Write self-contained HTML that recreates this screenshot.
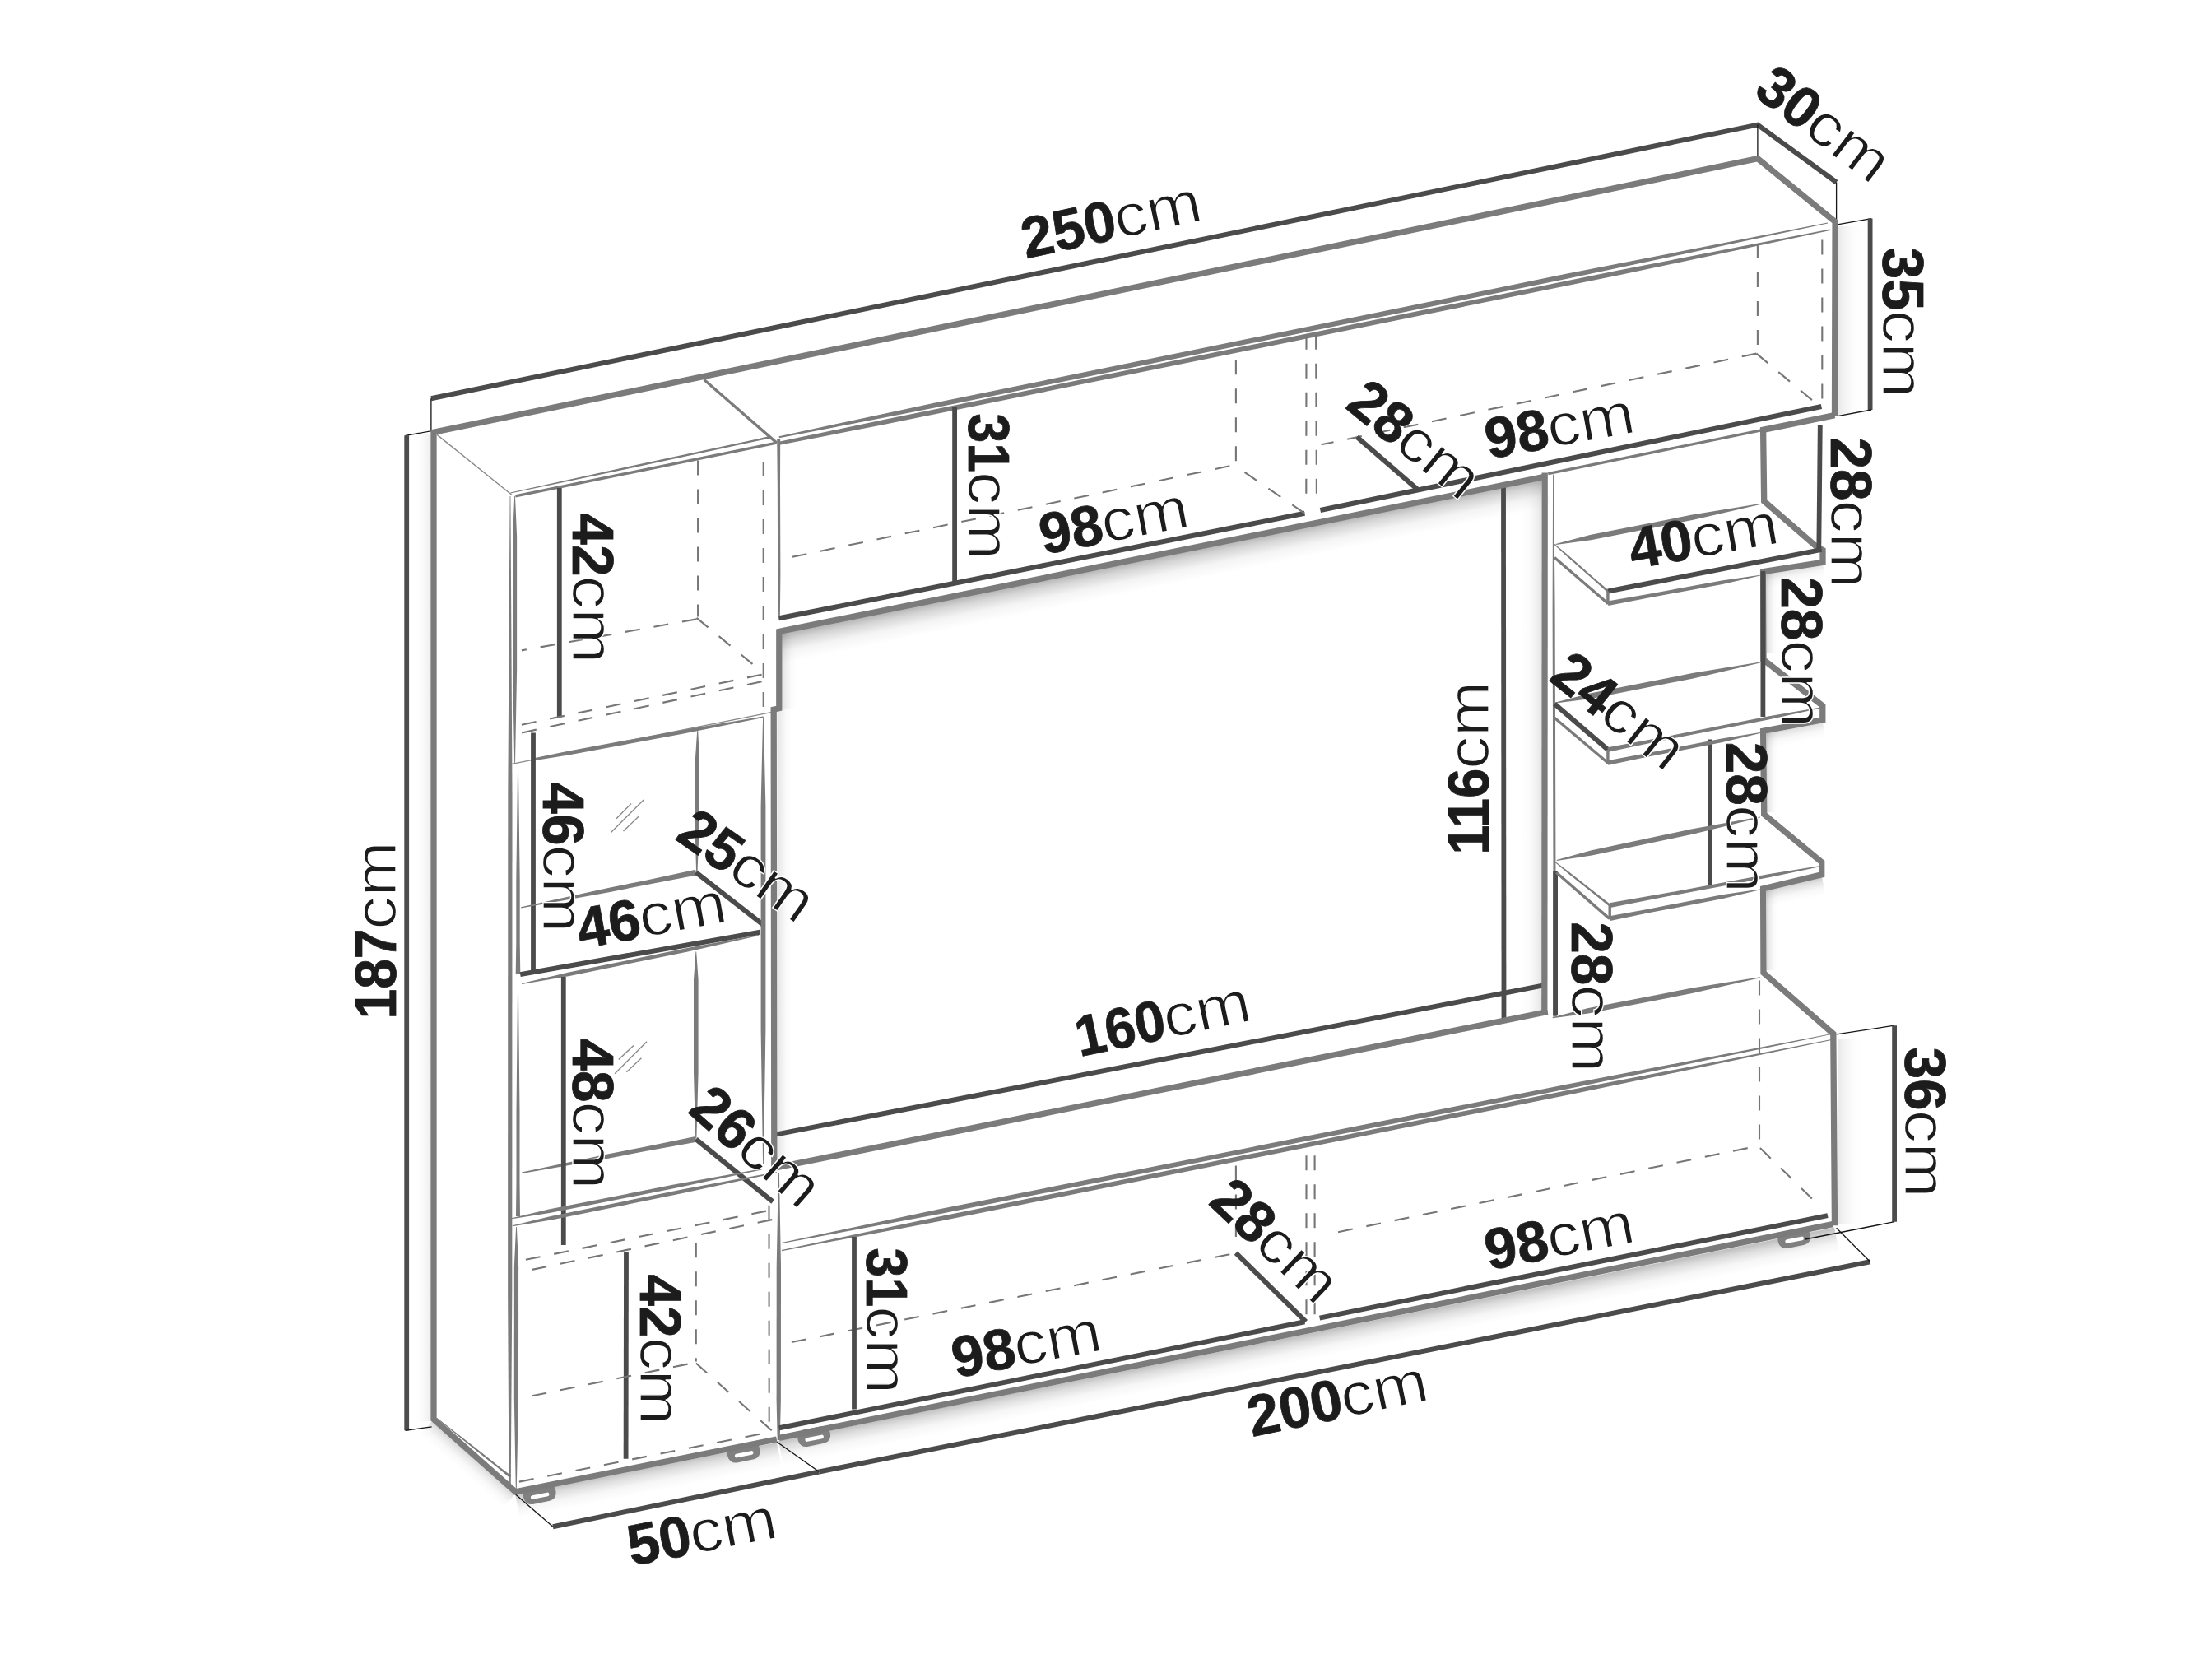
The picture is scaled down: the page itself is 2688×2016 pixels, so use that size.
<!DOCTYPE html>
<html lang="en"><head><meta charset="utf-8"><title>Wall unit dimensions</title>
<style>
html,body{margin:0;padding:0;background:#fff;}
body{width:2688px;height:2016px;overflow:hidden;}
svg{display:block;}
text{font-family:"Liberation Sans",sans-serif;font-size:70px;fill:#1c1c1c;}
text.n{font-weight:bold;stroke:#1c1c1c;stroke-width:0.8px;}
text.u{font-weight:normal;font-size:72px;stroke:#fff;stroke-width:1.3px;paint-order:fill stroke;}
</style></head><body>
<svg width="2688" height="2016" viewBox="0 0 2688 2016">
<rect width="2688" height="2016" fill="#fff"/>
<defs><linearGradient id="g0" gradientUnits="userSpaceOnUse" x1="944.0" y1="771.0" x2="951.2" y2="806.3"><stop offset="0" stop-color="#000" stop-opacity="0.3"/><stop offset="0.25" stop-color="#000" stop-opacity="0.165"/><stop offset="0.6" stop-color="#000" stop-opacity="0.045"/><stop offset="1" stop-color="#000" stop-opacity="0"/></linearGradient><linearGradient id="g1" gradientUnits="userSpaceOnUse" x1="950.5" y1="770.0" x2="968.5" y2="770.0"><stop offset="0" stop-color="#000" stop-opacity="0.12"/><stop offset="0.25" stop-color="#000" stop-opacity="0.066"/><stop offset="0.6" stop-color="#000" stop-opacity="0.018"/><stop offset="1" stop-color="#000" stop-opacity="0"/></linearGradient><linearGradient id="g2" gradientUnits="userSpaceOnUse" x1="944.5" y1="862.0" x2="962.5" y2="862.0"><stop offset="0" stop-color="#000" stop-opacity="0.12"/><stop offset="0.25" stop-color="#000" stop-opacity="0.066"/><stop offset="0.6" stop-color="#000" stop-opacity="0.018"/><stop offset="1" stop-color="#000" stop-opacity="0"/></linearGradient><linearGradient id="g3" gradientUnits="userSpaceOnUse" x1="1873.0" y1="583.0" x2="1849.0" y2="583.0"><stop offset="0" stop-color="#000" stop-opacity="0.1"/><stop offset="0.25" stop-color="#000" stop-opacity="0.055"/><stop offset="0.6" stop-color="#000" stop-opacity="0.015"/><stop offset="1" stop-color="#000" stop-opacity="0"/></linearGradient><linearGradient id="g4" gradientUnits="userSpaceOnUse" x1="946.0" y1="1751.0" x2="951.9" y2="1780.4"><stop offset="0" stop-color="#000" stop-opacity="0.24"/><stop offset="0.25" stop-color="#000" stop-opacity="0.132"/><stop offset="0.6" stop-color="#000" stop-opacity="0.036"/><stop offset="1" stop-color="#000" stop-opacity="0"/></linearGradient><linearGradient id="g5" gradientUnits="userSpaceOnUse" x1="626.0" y1="1815.5" x2="631.8" y2="1844.9"><stop offset="0" stop-color="#000" stop-opacity="0.24"/><stop offset="0.25" stop-color="#000" stop-opacity="0.132"/><stop offset="0.6" stop-color="#000" stop-opacity="0.036"/><stop offset="1" stop-color="#000" stop-opacity="0"/></linearGradient><linearGradient id="g6" gradientUnits="userSpaceOnUse" x1="525.0" y1="1727.0" x2="510.5" y2="1743.5"><stop offset="0" stop-color="#000" stop-opacity="0.16"/><stop offset="0.25" stop-color="#000" stop-opacity="0.088"/><stop offset="0.6" stop-color="#000" stop-opacity="0.024"/><stop offset="1" stop-color="#000" stop-opacity="0"/></linearGradient><linearGradient id="g7" gradientUnits="userSpaceOnUse" x1="523.5" y1="528.0" x2="503.5" y2="528.0"><stop offset="0" stop-color="#000" stop-opacity="0.07"/><stop offset="0.25" stop-color="#000" stop-opacity="0.039"/><stop offset="0.6" stop-color="#000" stop-opacity="0.011"/><stop offset="1" stop-color="#000" stop-opacity="0"/></linearGradient><linearGradient id="g8" gradientUnits="userSpaceOnUse" x1="2233.5" y1="275.0" x2="2263.5" y2="275.0"><stop offset="0" stop-color="#000" stop-opacity="0.09"/><stop offset="0.25" stop-color="#000" stop-opacity="0.050"/><stop offset="0.6" stop-color="#000" stop-opacity="0.013"/><stop offset="1" stop-color="#000" stop-opacity="0"/></linearGradient><linearGradient id="g9" gradientUnits="userSpaceOnUse" x1="2233.5" y1="1262.0" x2="2263.5" y2="1262.0"><stop offset="0" stop-color="#000" stop-opacity="0.09"/><stop offset="0.25" stop-color="#000" stop-opacity="0.050"/><stop offset="0.6" stop-color="#000" stop-opacity="0.013"/><stop offset="1" stop-color="#000" stop-opacity="0"/></linearGradient><linearGradient id="g10" gradientUnits="userSpaceOnUse" x1="2141.0" y1="695.0" x2="2145.4" y2="716.5"><stop offset="0" stop-color="#000" stop-opacity="0.2"/><stop offset="0.25" stop-color="#000" stop-opacity="0.110"/><stop offset="0.6" stop-color="#000" stop-opacity="0.030"/><stop offset="1" stop-color="#000" stop-opacity="0"/></linearGradient><linearGradient id="g11" gradientUnits="userSpaceOnUse" x1="2147.0" y1="693.0" x2="2161.0" y2="693.0"><stop offset="0" stop-color="#000" stop-opacity="0.14"/><stop offset="0.25" stop-color="#000" stop-opacity="0.077"/><stop offset="0.6" stop-color="#000" stop-opacity="0.021"/><stop offset="1" stop-color="#000" stop-opacity="0"/></linearGradient><linearGradient id="g12" gradientUnits="userSpaceOnUse" x1="2141.0" y1="889.0" x2="2145.4" y2="910.5"><stop offset="0" stop-color="#000" stop-opacity="0.2"/><stop offset="0.25" stop-color="#000" stop-opacity="0.110"/><stop offset="0.6" stop-color="#000" stop-opacity="0.030"/><stop offset="1" stop-color="#000" stop-opacity="0"/></linearGradient><linearGradient id="g13" gradientUnits="userSpaceOnUse" x1="2147.0" y1="887.0" x2="2161.0" y2="887.0"><stop offset="0" stop-color="#000" stop-opacity="0.14"/><stop offset="0.25" stop-color="#000" stop-opacity="0.077"/><stop offset="0.6" stop-color="#000" stop-opacity="0.021"/><stop offset="1" stop-color="#000" stop-opacity="0"/></linearGradient><linearGradient id="g14" gradientUnits="userSpaceOnUse" x1="2141.0" y1="1081.0" x2="2145.4" y2="1102.5"><stop offset="0" stop-color="#000" stop-opacity="0.2"/><stop offset="0.25" stop-color="#000" stop-opacity="0.110"/><stop offset="0.6" stop-color="#000" stop-opacity="0.030"/><stop offset="1" stop-color="#000" stop-opacity="0"/></linearGradient><linearGradient id="g15" gradientUnits="userSpaceOnUse" x1="2147.0" y1="1079.0" x2="2161.0" y2="1079.0"><stop offset="0" stop-color="#000" stop-opacity="0.14"/><stop offset="0.25" stop-color="#000" stop-opacity="0.077"/><stop offset="0.6" stop-color="#000" stop-opacity="0.021"/><stop offset="1" stop-color="#000" stop-opacity="0"/></linearGradient></defs>
<g><polygon points="944.0,771.0 1877.0,581.0 1884.2,616.3 951.2,806.3" fill="url(#g0)"/>
<polygon points="950.5,770.0 950.5,862.0 968.5,862.0 968.5,770.0" fill="url(#g1)"/>
<polygon points="944.5,862.0 944.5,1416.0 962.5,1416.0 962.5,862.0" fill="url(#g2)"/>
<polygon points="1873.0,583.0 1873.0,1232.0 1849.0,1232.0 1849.0,583.0" fill="url(#g3)"/>
<polygon points="946.0,1751.0 2229.0,1491.5 2234.9,1520.9 951.9,1780.4" fill="url(#g4)"/>
<polygon points="626.0,1815.5 944.0,1753.0 949.8,1782.4 631.8,1844.9" fill="url(#g5)"/>
<polygon points="525.0,1727.0 626.0,1815.5 611.5,1832.0 510.5,1743.5" fill="url(#g6)"/>
<polygon points="523.5,528.0 523.5,1727.0 503.5,1727.0 503.5,528.0" fill="url(#g7)"/>
<polygon points="2233.5,275.0 2233.5,505.0 2263.5,505.0 2263.5,275.0" fill="url(#g8)"/>
<polygon points="2233.5,1262.0 2233.5,1488.0 2263.5,1488.0 2263.5,1262.0" fill="url(#g9)"/>
<polygon points="2141.0,695.0 2214.0,680.0 2218.4,701.5 2145.4,716.5" fill="url(#g10)"/>
<polygon points="2147.0,693.0 2147.0,793.0 2161.0,793.0 2161.0,693.0" fill="url(#g11)"/>
<polygon points="2141.0,889.0 2214.0,874.0 2218.4,895.5 2145.4,910.5" fill="url(#g12)"/>
<polygon points="2147.0,887.0 2147.0,987.0 2161.0,987.0 2161.0,887.0" fill="url(#g13)"/>
<polygon points="2141.0,1081.0 2214.0,1066.0 2218.4,1087.5 2145.4,1102.5" fill="url(#g14)"/>
<polygon points="2147.0,1079.0 2147.0,1179.0 2161.0,1179.0 2161.0,1079.0" fill="url(#g15)"/></g>
<g><g transform="translate(656.0,1817.0) rotate(-11.5)"><rect x="-20" y="-12" width="40" height="21" rx="9.5" fill="#808080"/><rect x="-11.5" y="-1.5" width="23" height="4.6" rx="2.3" fill="#fff"/></g>
<g transform="translate(904.0,1766.5) rotate(-11.5)"><rect x="-20" y="-12" width="40" height="21" rx="9.5" fill="#808080"/><rect x="-11.5" y="-1.5" width="23" height="4.6" rx="2.3" fill="#fff"/></g>
<g transform="translate(989.5,1747.0) rotate(-11.5)"><rect x="-20" y="-12" width="40" height="21" rx="9.5" fill="#808080"/><rect x="-11.5" y="-1.5" width="23" height="4.6" rx="2.3" fill="#fff"/></g>
<g transform="translate(2180.5,1506.0) rotate(-11.5)"><rect x="-20" y="-12" width="40" height="21" rx="9.5" fill="#808080"/><rect x="-11.5" y="-1.5" width="23" height="4.6" rx="2.3" fill="#fff"/></g></g>
<g stroke-linecap="butt" stroke-linejoin="miter">
<polyline points="523.9,484.3 2135.9,151.6 2231.6,221.5" fill="none" stroke="#4b4b4b" stroke-width="6" />
<polyline points="2135.9,151.6 2135.9,191.1" fill="none" stroke="#151515" stroke-width="1.3" />
<polyline points="2231.6,221.5 2231.6,273.2" fill="none" stroke="#151515" stroke-width="1.3" />
<polyline points="523.9,484.3 523.9,523.8 492.7,529.3" fill="none" stroke="#151515" stroke-width="1.3" />
<polyline points="494.2,529.3 494.2,1738.3" fill="none" stroke="#4b4b4b" stroke-width="5.8" />
<polyline points="492.7,1738.3 524.6,1733.8" fill="none" stroke="#151515" stroke-width="1.3" />
<polyline points="2231.6,273.2 2274.1,265.6" fill="none" stroke="#151515" stroke-width="1.3" />
<polyline points="2272.6,265.6 2272.6,498.0" fill="none" stroke="#4b4b4b" stroke-width="5.8" />
<polyline points="2274.1,498.0 2233.1,505.6" fill="none" stroke="#151515" stroke-width="1.3" />
<polyline points="2231.6,1256.9 2302.1,1246.2" fill="none" stroke="#151515" stroke-width="1.3" />
<polyline points="2302.1,1246.2 2302.1,1484.7" fill="none" stroke="#4b4b4b" stroke-width="5.8" />
<polyline points="2302.1,1484.7 2193.6,1506.0" fill="none" stroke="#151515" stroke-width="1.3" />
<polyline points="626.3,1815.8 671.9,1855.3" fill="none" stroke="#151515" stroke-width="1.3" />
<polyline points="671.9,1855.3 995.4,1788.5" fill="none" stroke="#4b4b4b" stroke-width="6" />
<polyline points="943.8,1752.0 995.4,1788.5" fill="none" stroke="#151515" stroke-width="1.3" />
<polyline points="995.4,1788.5 2272.6,1533.3" fill="none" stroke="#4b4b4b" stroke-width="6" />
<polyline points="2272.6,1533.3 2231.6,1492.3" fill="none" stroke="#151515" stroke-width="1.3" />
<polyline points="943.8,1749.0 626.3,1812.8 527.0,1724.7 527.0,525.3 2135.9,192.7 2230.1,269.5 2229.5,505.6" fill="none" stroke="#7b7b7b" stroke-width="7.3" />
<polyline points="531.2,528.4 621.8,601.3" fill="none" stroke="#8a8a8a" stroke-width="1.4" />
<polygon points="530.4,1723.4 579.2,1763.2 606.2,1784.7 619.3,1795.8 621.3,1793.2 607.5,1782.9 580.6,1761.5 530.8,1722.8" fill="#7b7b7b"/>
<polyline points="855.7,461.5 943.8,538.1" fill="none" stroke="#7b7b7b" stroke-width="3.4" />
<polygon points="620.4,599.4 762.7,569.7 920.7,535.8 936.5,532.6 935.9,529.8 920.2,533.4 762.2,567.3 620.2,598.6" fill="#7b7b7b"/>
<polyline points="626.3,602.9 943.8,538.2" fill="none" stroke="#7b7b7b" stroke-width="3.4" stroke-width="3.8"/>
<polygon points="947.0,532.2 1138.5,495.1 1903.1,339.0 2221.1,271.5 2220.9,270.5 1901.8,333.1 1137.3,489.2 946.6,530.2" fill="#7b7b7b"/>
<polygon points="947.2,540.8 1075.1,515.7 1969.1,334.0 2224.1,279.9 2223.9,278.5 1968.0,328.3 1073.9,510.0 946.4,536.8" fill="#7b7b7b"/>
<polygon points="944.2,534.0 944.8,588.8 945.2,698.3 946.2,753.0 947.8,753.0 948.4,698.2 948.0,588.7 948.2,534.0" fill="#7b7b7b"/>
<polyline points="946.8,751.3 1585.4,623.7" fill="none" stroke="#4b4b4b" stroke-width="6" />
<polyline points="1604.4,620.0 2213.4,494.0" fill="none" stroke="#4b4b4b" stroke-width="6" />
<polyline points="1827.0,588.1 1827.5,1238.6" fill="none" stroke="#4b4b4b" stroke-width="5.8" />
<polyline points="943.8,1378.4 1874.6,1197.6" fill="none" stroke="#4b4b4b" stroke-width="6" />
<polyline points="1876.7,579.4 946.8,767.4 946.8,860.7 940.2,862.2 940.8,1419.4 1880.7,1229.5" fill="none" stroke="#7b7b7b" stroke-width="7.3" stroke-width="7.8"/>
<polyline points="1877.2,574.4 1876.8,1234.1" fill="none" stroke="#7b7b7b" stroke-width="7.3" stroke-width="8.4"/>
<polygon points="1887.1,576.7 1886.6,741.4 1887.5,1070.9 1887.2,1235.6 1891.8,1235.6 1890.5,1070.9 1889.6,741.4 1888.1,576.7" fill="#7b7b7b"/>
<polyline points="1881.3,575.6 2142.6,522.3" fill="none" stroke="#7b7b7b" stroke-width="3.4" />
<polygon points="619.6,603.0 617.3,965.1 617.1,1568.6 618.5,1810.0 620.7,1810.0 622.3,1568.6 622.5,965.1 620.4,603.0" fill="#7b7b7b"/>
<polygon points="625.2,603.0 623.1,651.8 623.1,814.2 625.2,928.0 626.0,928.0 628.1,814.2 628.1,651.8 626.0,603.0" fill="#7b7b7b"/>
<polygon points="629.1,931.0 627.3,1070.2 627.3,1146.0 626.7,1184.0 632.3,1184.0 631.7,1146.0 631.7,1070.2 629.9,931.0" fill="#7b7b7b"/>
<polygon points="629.1,1196.0 627.5,1351.1 627.5,1435.7 627.0,1478.0 632.0,1478.0 631.5,1435.7 631.5,1351.1 629.9,1196.0" fill="#7b7b7b"/>
<polygon points="627.1,1491.0 624.9,1538.7 624.8,1697.7 626.8,1809.0 627.8,1809.0 630.0,1697.7 630.1,1538.7 627.9,1491.0" fill="#7b7b7b"/>
<polyline points="679.8,593 679.8,871.5" fill="none" stroke="#4b4b4b" stroke-width="5.8" />
<polyline points="848.1,559.5 848.1,749.4" fill="none" stroke="#767676" stroke-width="2.1" stroke-dasharray="18 17" />
<polyline points="927.7,561.0 927.7,868.3" fill="none" stroke="#767676" stroke-width="2.1" stroke-dasharray="18 17" />
<polyline points="846.6,752.4 633.9,790.4" fill="none" stroke="#767676" stroke-width="2.1" stroke-dasharray="18 17" />
<polyline points="846.6,750.9 916.5,808.6" fill="none" stroke="#767676" stroke-width="2.1" stroke-dasharray="18 17" />
<polyline points="925.6,819.7 627.8,882.0" fill="none" stroke="#767676" stroke-width="2.1" stroke-dasharray="18 17" stroke-width="2"/>
<polyline points="925.6,828.2 630.9,891.1" fill="none" stroke="#767676" stroke-width="2.1" stroke-dasharray="18 17" stroke-width="2"/>
<polyline points="937.0,865.6 620.8,928.6" fill="none" stroke="#8a8a8a" stroke-width="1.4" />
<polygon points="650.6,924.0 692.3,917.2 830.9,891.6 927.6,872.0 927.4,870.6 830.0,886.9 691.4,912.5 650.0,921.0" fill="#7b7b7b"/>
<polyline points="648,890.5 648,1181.5" fill="none" stroke="#4b4b4b" stroke-width="5.8" />
<polygon points="847.3,886.5 845.0,921.1 844.6,1007.7 846.1,1059.6 847.5,1059.6 849.6,1007.7 850.0,921.1 848.1,886.5" fill="#7b7b7b"/>
<polygon points="845.1,1056.8 781.5,1070.4 739.0,1078.9 633.1,1102.2 633.3,1103.6 740.0,1084.2 782.6,1075.7 846.5,1063.6" fill="#7b7b7b"/>
<polyline points="845.8,1060.2 927.5,1123.8" fill="none" stroke="#4b4b4b" stroke-width="6" stroke-width="4.6"/>
<polygon points="927.1,871.3 924.6,979.8 924.6,1251.2 927.1,1414.0 927.9,1414.0 930.4,1251.2 930.4,979.8 927.9,871.3" fill="#7b7b7b"/>
<polyline points="742.3,1011.8 782.2,971.9" fill="none" stroke="#8a8a8a" stroke-width="1.4" />
<polyline points="757.5,1009.9 776.5,991.8" fill="none" stroke="#8a8a8a" stroke-width="1.4" />
<polyline points="749.0,994.7 767.0,976.6" fill="none" stroke="#8a8a8a" stroke-width="1.4" />
<polyline points="632.2,1184.1 923.7,1132.8" fill="none" stroke="#4b4b4b" stroke-width="6" stroke-width="6.8"/>
<polygon points="634.2,1196.0 692.1,1185.9 835.9,1156.4 921.9,1137.1 921.7,1136.1 835.0,1152.1 691.2,1181.6 634.0,1195.0" fill="#7b7b7b"/>
<polygon points="845.4,1156.6 843.0,1190.5 843.0,1303.7 845.2,1382.9 846.4,1382.9 848.6,1303.7 848.6,1190.5 846.2,1156.6" fill="#7b7b7b"/>
<polygon points="845.1,1381.0 781.8,1394.0 739.4,1402.2 634.0,1424.6 634.2,1426.0 740.5,1407.5 782.8,1399.3 846.5,1387.8" fill="#7b7b7b"/>
<polyline points="845.8,1384.4 939.2,1460.4" fill="none" stroke="#4b4b4b" stroke-width="6" stroke-width="4.6"/>
<polyline points="684.8,1187 684.8,1513" fill="none" stroke="#4b4b4b" stroke-width="5.8" />
<polyline points="751.8,1287.6 769.9,1270.5" fill="none" stroke="#8a8a8a" stroke-width="1.4" />
<polyline points="747.1,1304.7 786.0,1265.8" fill="none" stroke="#8a8a8a" stroke-width="1.4" />
<polyline points="761.3,1302.8 779.4,1285.7" fill="none" stroke="#8a8a8a" stroke-width="1.4" />
<polygon points="621.9,1481.3 667.8,1474.1 819.7,1444.1 925.7,1421.6 925.5,1420.2 818.8,1439.6 666.9,1469.6 621.7,1480.3" fill="#7b7b7b"/>
<polygon points="622.8,1490.2 671.3,1482.2 831.9,1449.6 943.9,1425.3 943.7,1423.9 831.0,1445.1 670.4,1477.7 622.6,1489.2" fill="#7b7b7b"/>
<polyline points="638.9,1530.8 937.0,1470.4" fill="none" stroke="#767676" stroke-width="2.1" stroke-dasharray="18 17" />
<polyline points="646.5,1542.9 944.6,1480.8" fill="none" stroke="#767676" stroke-width="2.1" stroke-dasharray="18 17" />
<polyline points="845.8,1510.3 845.8,1654.6" fill="none" stroke="#767676" stroke-width="2.1" stroke-dasharray="18 17" />
<polyline points="934.5,1464.7 934.7,1733.8" fill="none" stroke="#767676" stroke-width="2.1" stroke-dasharray="18 17" />
<polyline points="761,1521.5 760.6,1772.7" fill="none" stroke="#4b4b4b" stroke-width="5.8" />
<polyline points="646.5,1696.3 841.1,1656.5" fill="none" stroke="#767676" stroke-width="2.1" stroke-dasharray="18 17" />
<polyline points="845.8,1656.5 937.7,1738.3" fill="none" stroke="#767676" stroke-width="2.1" stroke-dasharray="18 17" />
<polyline points="630.9,1800.6 937.7,1739.8" fill="none" stroke="#767676" stroke-width="2.1" stroke-dasharray="18 17" />
<polygon points="945.9,1425.0 943.7,1538.7 943.6,1701.2 944.7,1750.0 947.7,1750.0 948.9,1701.3 949.0,1538.8 946.9,1425.0" fill="#7b7b7b"/>
<polygon points="950.0,1511.1 1141.6,1475.3 1906.0,1323.1 2224.1,1257.3 2223.9,1256.5 1904.9,1317.5 1140.4,1469.6 949.8,1509.9" fill="#7b7b7b"/>
<polygon points="950.0,1520.2 1141.8,1483.9 1907.2,1330.3 2225.6,1263.9 2225.4,1263.1 1906.0,1324.8 1140.7,1478.4 949.8,1519.0" fill="#7b7b7b"/>
<polyline points="2138.0,1191.5 2138.0,1393.6" fill="none" stroke="#767676" stroke-width="2.1" stroke-dasharray="18 17" />
<polyline points="2123.7,1395.1 1612.8,1499.9" fill="none" stroke="#767676" stroke-width="2.1" stroke-dasharray="18 17" />
<polyline points="1494.3,1524.2 949.9,1633.5" fill="none" stroke="#767676" stroke-width="2.1" stroke-dasharray="18 17" />
<polyline points="2138.9,1395.1 2205.8,1460.4" fill="none" stroke="#767676" stroke-width="2.1" stroke-dasharray="18 17" />
<polyline points="946.8,1735.3 1585.4,1606.2" fill="none" stroke="#4b4b4b" stroke-width="6" />
<polyline points="1603.6,1601.6 2221.0,1477.1" fill="none" stroke="#4b4b4b" stroke-width="6" />
<polyline points="946.8,1747.4 2227.0,1487.7" fill="none" stroke="#7b7b7b" stroke-width="7.3" stroke-width="7.8"/>
<polyline points="1501.9,1522.7 1586.9,1606.2" fill="none" stroke="#4b4b4b" stroke-width="6" />
<polyline points="1501.9,1416.4 1501.9,1502.9" fill="none" stroke="#767676" stroke-width="2.1" stroke-dasharray="18 17" />
<polyline points="1587.5,1404.2 1587.5,1603.1" fill="none" stroke="#767676" stroke-width="2.1" stroke-dasharray="18 17" />
<polyline points="1597.6,1404.2 1597.6,1603.1" fill="none" stroke="#767676" stroke-width="2.1" stroke-dasharray="18 17" />
<polyline points="1038.0,1502.9 1038.0,1712.5" fill="none" stroke="#4b4b4b" stroke-width="5.8" />
<polyline points="1501.9,437.2 1501.9,564.8" fill="none" stroke="#767676" stroke-width="2.1" stroke-dasharray="18 17" />
<polyline points="1587.5,406.8 1587.3,604.1" fill="none" stroke="#767676" stroke-width="2.1" stroke-dasharray="18 17" />
<polyline points="1599.1,406.8 1599.9,604.1" fill="none" stroke="#767676" stroke-width="2.1" stroke-dasharray="18 17" />
<polyline points="1494.3,566.3 949.9,679.5" fill="none" stroke="#767676" stroke-width="2.1" stroke-dasharray="18 17" />
<polyline points="1512.5,573.9 1585.4,623.7" fill="none" stroke="#767676" stroke-width="2.1" stroke-dasharray="18 17" />
<polyline points="2134.4,429.6 1605.6,540.3" fill="none" stroke="#767676" stroke-width="2.1" stroke-dasharray="18 17" />
<polyline points="2135.9,295.9 2135.9,428.1" fill="none" stroke="#767676" stroke-width="2.1" stroke-dasharray="18 17" />
<polyline points="2214.3,291.4 2214.3,491.9" fill="none" stroke="#767676" stroke-width="2.1" stroke-dasharray="18 17" />
<polyline points="2134.4,429.6 2208.8,491.9" fill="none" stroke="#767676" stroke-width="2.1" stroke-dasharray="18 17" />
<polyline points="1160.1,494.9 1160.1,707.3" fill="none" stroke="#4b4b4b" stroke-width="5.8" />
<polyline points="1648.9,531.1 1722.9,594.9" fill="none" stroke="#4b4b4b" stroke-width="6" />
<polyline points="2229.5,504.7 2142.6,522.3 2143.7,609.1 2207.3,664.3 2215.0,668.4 2215.0,683.4 2142.6,694.6 2143.0,801.6 2214.8,857.5 2214.8,874.8 2142.6,888.2 2143.7,989.6 2213.7,1047.7 2213.7,1062.8 2142.6,1079.8 2143.0,1182.2 2227.8,1256.2 2229.5,1489.3" fill="none" stroke="#7b7b7b" stroke-width="7.3" />
<polyline points="2211.8,516.2 2210.3,668.4" fill="none" stroke="#4b4b4b" stroke-width="5.8" />
<polyline points="2142.4,693.9 2142.4,871.1" fill="none" stroke="#4b4b4b" stroke-width="5.8" />
<polyline points="2078.1,898.5 2078.1,1076.7" fill="none" stroke="#4b4b4b" stroke-width="5.8" />
<polyline points="1890.1,1059.1 1890.1,1233.4" fill="none" stroke="#4b4b4b" stroke-width="5.8" />
<polygon points="1890.7,662.0 1933.4,656.3 2057.6,631.8 2139.0,613.0 2138.8,612.0 2056.3,625.5 1932.2,650.0 1890.5,661.0" fill="#7b7b7b"/>
<polygon points="1888.7,661.9 1904.5,676.6 1936.9,705.1 1952.9,719.6 1954.9,717.4 1938.4,703.4 1906.0,674.9 1889.3,661.1" fill="#7b7b7b"/>
<polyline points="1953.9,718.5 2213.7,667.9" fill="none" stroke="#4b4b4b" stroke-width="6" stroke-width="5"/>
<polygon points="1954.4,736.1 2000.6,727.0 2093.1,709.9 2139.0,699.5 2138.8,698.7 2092.2,705.4 1999.7,722.5 1953.4,730.5" fill="#7b7b7b"/>
<polyline points="1889.0,677.5 1953.9,733.3" fill="none" stroke="#7b7b7b" stroke-width="3.4" stroke-width="4.6"/>
<polyline points="1953.9,734.4 1953.9,718.5" fill="none" stroke="#7b7b7b" stroke-width="3.4" stroke-width="2.6"/>
<polygon points="1890.7,854.6 1933.4,848.9 2057.6,824.4 2139.0,805.6 2138.8,804.6 2056.3,818.1 1932.2,842.6 1890.5,853.6" fill="#7b7b7b"/>
<polyline points="1889.0,855.2 1953.9,911.0" fill="none" stroke="#4b4b4b" stroke-width="6" stroke-width="5"/>
<polygon points="1954.4,913.7 2019.2,900.1 2149.1,874.5 2213.8,860.2 2213.6,859.2 2148.4,870.6 2018.5,896.2 1953.4,908.3" fill="#7b7b7b"/>
<polygon points="1954.4,929.7 2000.6,920.1 2093.1,901.9 2139.0,890.9 2138.8,890.1 2092.2,897.4 1999.7,915.6 1953.4,924.3" fill="#7b7b7b"/>
<polyline points="1889.0,872.3 1953.9,927.0" fill="none" stroke="#7b7b7b" stroke-width="3.4" stroke-width="4.4"/>
<polyline points="1953.9,928.1 1953.9,911.0" fill="none" stroke="#7b7b7b" stroke-width="3.4" stroke-width="2.6"/>
<polygon points="1891.8,1045.9 1934.4,1039.6 2058.0,1013.4 2139.0,993.5 2138.8,992.5 2056.7,1007.2 1933.1,1033.4 1891.6,1044.9" fill="#7b7b7b"/>
<polygon points="1889.8,1048.1 1905.9,1061.7 1939.0,1087.9 1955.3,1101.3 1957.1,1098.9 1940.4,1086.1 1907.3,1059.9 1890.4,1047.3" fill="#7b7b7b"/>
<polygon points="1956.7,1103.0 2021.0,1090.2 2149.7,1066.3 2213.8,1052.8 2213.6,1051.8 2148.9,1062.2 2020.2,1086.1 1955.7,1097.2" fill="#7b7b7b"/>
<polygon points="1956.8,1118.9 2002.3,1109.6 2093.7,1092.0 2139.0,1081.2 2138.8,1080.4 2092.8,1087.3 2001.4,1104.9 1955.6,1113.3" fill="#7b7b7b"/>
<polyline points="1891.3,1060.3 1955.5,1116.1" fill="none" stroke="#7b7b7b" stroke-width="3.4" stroke-width="4.4"/>
<polyline points="1956.2,1117.2 1956.2,1100.1" fill="none" stroke="#7b7b7b" stroke-width="3.4" stroke-width="2.6"/>
<polygon points="1886.8,1237.3 1930.2,1231.6 2056.3,1207.1 2139.0,1188.3 2138.8,1187.3 2055.1,1200.8 1929.0,1225.3 1886.6,1236.3" fill="#7b7b7b"/>
</g>
<g>
<g transform="translate(1246.7,314.2) rotate(-12.2)"><text class="n" x="0" y="0" textLength="115.8" lengthAdjust="spacingAndGlyphs">250</text><text class="u" x="114.8" y="0" textLength="107.0" lengthAdjust="spacingAndGlyphs">cm</text></g>
<g transform="translate(2128.9,114.2) rotate(37.3)"><text class="n" x="0" y="0" textLength="77.2" lengthAdjust="spacingAndGlyphs">30</text><text class="u" x="76.2" y="0" textLength="107.0" lengthAdjust="spacingAndGlyphs">cm</text></g>
<g transform="translate(2287.8,300.5) rotate(90.0)"><text class="n" x="0" y="0" textLength="77.2" lengthAdjust="spacingAndGlyphs">35</text><text class="u" x="76.2" y="0" textLength="107.0" lengthAdjust="spacingAndGlyphs">cm</text></g>
<g transform="translate(2224.5,531.4) rotate(90.0)"><text class="n" x="0" y="0" textLength="77.2" lengthAdjust="spacingAndGlyphs">28</text><text class="u" x="76.2" y="0" textLength="107.0" lengthAdjust="spacingAndGlyphs">cm</text></g>
<g transform="translate(1809.3,557.7) rotate(-10.3)"><text class="n" x="0" y="0" textLength="77.2" lengthAdjust="spacingAndGlyphs">98</text><text class="u" x="76.2" y="0" textLength="107.0" lengthAdjust="spacingAndGlyphs">cm</text></g>
<g transform="translate(1633.3,494.8) rotate(39.2)"><text class="n" x="0" y="0" textLength="77.2" lengthAdjust="spacingAndGlyphs">28</text><text class="u" x="76.2" y="0" textLength="107.0" lengthAdjust="spacingAndGlyphs">cm</text></g>
<g transform="translate(1176.8,502.5) rotate(90.0)"><text class="n" x="0" y="0" textLength="71.6" lengthAdjust="spacingAndGlyphs">31</text><text class="u" x="70.6" y="0" textLength="107.0" lengthAdjust="spacingAndGlyphs">cm</text></g>
<g transform="translate(1267.9,673.8) rotate(-10.7)"><text class="n" x="0" y="0" textLength="77.2" lengthAdjust="spacingAndGlyphs">98</text><text class="u" x="76.2" y="0" textLength="107.0" lengthAdjust="spacingAndGlyphs">cm</text></g>
<g transform="translate(696.2,623.3) rotate(90.0)"><text class="n" x="0" y="0" textLength="77.2" lengthAdjust="spacingAndGlyphs">42</text><text class="u" x="76.2" y="0" textLength="107.0" lengthAdjust="spacingAndGlyphs">cm</text></g>
<g transform="translate(659.7,950.3) rotate(90.0)"><text class="n" x="0" y="0" textLength="77.2" lengthAdjust="spacingAndGlyphs">46</text><text class="u" x="76.2" y="0" textLength="107.0" lengthAdjust="spacingAndGlyphs">cm</text></g>
<g transform="translate(819.0,1019.0) rotate(35.0)"><text class="n" x="0" y="0" textLength="77.2" lengthAdjust="spacingAndGlyphs">25</text><text class="u" x="76.2" y="0" textLength="107.0" lengthAdjust="spacingAndGlyphs">cm</text></g>
<g transform="translate(705.8,1152.9) rotate(-10.3)"><text class="n" x="0" y="0" textLength="77.2" lengthAdjust="spacingAndGlyphs">46</text><text class="u" x="76.2" y="0" textLength="107.0" lengthAdjust="spacingAndGlyphs">cm</text></g>
<g transform="translate(481.1,1238.6) rotate(-90.0)"><text class="n" x="0" y="0" textLength="110.2" lengthAdjust="spacingAndGlyphs">187</text><text class="u" x="109.2" y="0" textLength="107.0" lengthAdjust="spacingAndGlyphs">cm</text></g>
<g transform="translate(696.2,1262.3) rotate(90.0)"><text class="n" x="0" y="0" textLength="77.2" lengthAdjust="spacingAndGlyphs">48</text><text class="u" x="76.2" y="0" textLength="107.0" lengthAdjust="spacingAndGlyphs">cm</text></g>
<g transform="translate(834.4,1351.0) rotate(41.2)"><text class="n" x="0" y="0" textLength="77.2" lengthAdjust="spacingAndGlyphs">26</text><text class="u" x="76.2" y="0" textLength="107.0" lengthAdjust="spacingAndGlyphs">cm</text></g>
<g transform="translate(777.6,1548.5) rotate(90.0)"><text class="n" x="0" y="0" textLength="77.2" lengthAdjust="spacingAndGlyphs">42</text><text class="u" x="76.2" y="0" textLength="107.0" lengthAdjust="spacingAndGlyphs">cm</text></g>
<g transform="translate(1053.2,1516.6) rotate(90.0)"><text class="n" x="0" y="0" textLength="71.6" lengthAdjust="spacingAndGlyphs">31</text><text class="u" x="70.6" y="0" textLength="107.0" lengthAdjust="spacingAndGlyphs">cm</text></g>
<g transform="translate(1161.6,1674.5) rotate(-10.7)"><text class="n" x="0" y="0" textLength="77.2" lengthAdjust="spacingAndGlyphs">98</text><text class="u" x="76.2" y="0" textLength="107.0" lengthAdjust="spacingAndGlyphs">cm</text></g>
<g transform="translate(1466.9,1461.9) rotate(43.6)"><text class="n" x="0" y="0" textLength="77.2" lengthAdjust="spacingAndGlyphs">28</text><text class="u" x="76.2" y="0" textLength="107.0" lengthAdjust="spacingAndGlyphs">cm</text></g>
<g transform="translate(1312.0,1284.2) rotate(-11.9)"><text class="n" x="0" y="0" textLength="110.2" lengthAdjust="spacingAndGlyphs">160</text><text class="u" x="109.2" y="0" textLength="107.0" lengthAdjust="spacingAndGlyphs">cm</text></g>
<g transform="translate(1809.3,1038.4) rotate(-90.0)"><text class="n" x="0" y="0" textLength="104.6" lengthAdjust="spacingAndGlyphs">116</text><text class="u" x="103.6" y="0" textLength="107.0" lengthAdjust="spacingAndGlyphs">cm</text></g>
<g transform="translate(1984.0,691.5) rotate(-10.0)"><text class="n" x="0" y="0" textLength="77.2" lengthAdjust="spacingAndGlyphs">40</text><text class="u" x="76.2" y="0" textLength="107.0" lengthAdjust="spacingAndGlyphs">cm</text></g>
<g transform="translate(2164.8,701.2) rotate(90.0)"><text class="n" x="0" y="0" textLength="77.2" lengthAdjust="spacingAndGlyphs">28</text><text class="u" x="76.2" y="0" textLength="107.0" lengthAdjust="spacingAndGlyphs">cm</text></g>
<g transform="translate(1880.7,825.8) rotate(38.3)"><text class="n" x="0" y="0" textLength="77.2" lengthAdjust="spacingAndGlyphs">24</text><text class="u" x="76.2" y="0" textLength="107.0" lengthAdjust="spacingAndGlyphs">cm</text></g>
<g transform="translate(2097.9,901.7) rotate(90.0)"><text class="n" x="0" y="0" textLength="77.2" lengthAdjust="spacingAndGlyphs">28</text><text class="u" x="76.2" y="0" textLength="107.0" lengthAdjust="spacingAndGlyphs">cm</text></g>
<g transform="translate(1909.6,1120.2) rotate(90.0)"><text class="n" x="0" y="0" textLength="77.2" lengthAdjust="spacingAndGlyphs">28</text><text class="u" x="76.2" y="0" textLength="107.0" lengthAdjust="spacingAndGlyphs">cm</text></g>
<g transform="translate(2315.1,1272.5) rotate(90.0)"><text class="n" x="0" y="0" textLength="77.2" lengthAdjust="spacingAndGlyphs">36</text><text class="u" x="76.2" y="0" textLength="107.0" lengthAdjust="spacingAndGlyphs">cm</text></g>
<g transform="translate(1809.3,1543.4) rotate(-10.8)"><text class="n" x="0" y="0" textLength="77.2" lengthAdjust="spacingAndGlyphs">98</text><text class="u" x="76.2" y="0" textLength="107.0" lengthAdjust="spacingAndGlyphs">cm</text></g>
<g transform="translate(1521.6,1745.9) rotate(-11.7)"><text class="n" x="0" y="0" textLength="115.8" lengthAdjust="spacingAndGlyphs">200</text><text class="u" x="114.8" y="0" textLength="107.0" lengthAdjust="spacingAndGlyphs">cm</text></g>
<g transform="translate(767.6,1902.8) rotate(-10.9)"><text class="n" x="0" y="0" textLength="77.2" lengthAdjust="spacingAndGlyphs">50</text><text class="u" x="76.2" y="0" textLength="107.0" lengthAdjust="spacingAndGlyphs">cm</text></g>
</g>
</svg>
</body></html>
